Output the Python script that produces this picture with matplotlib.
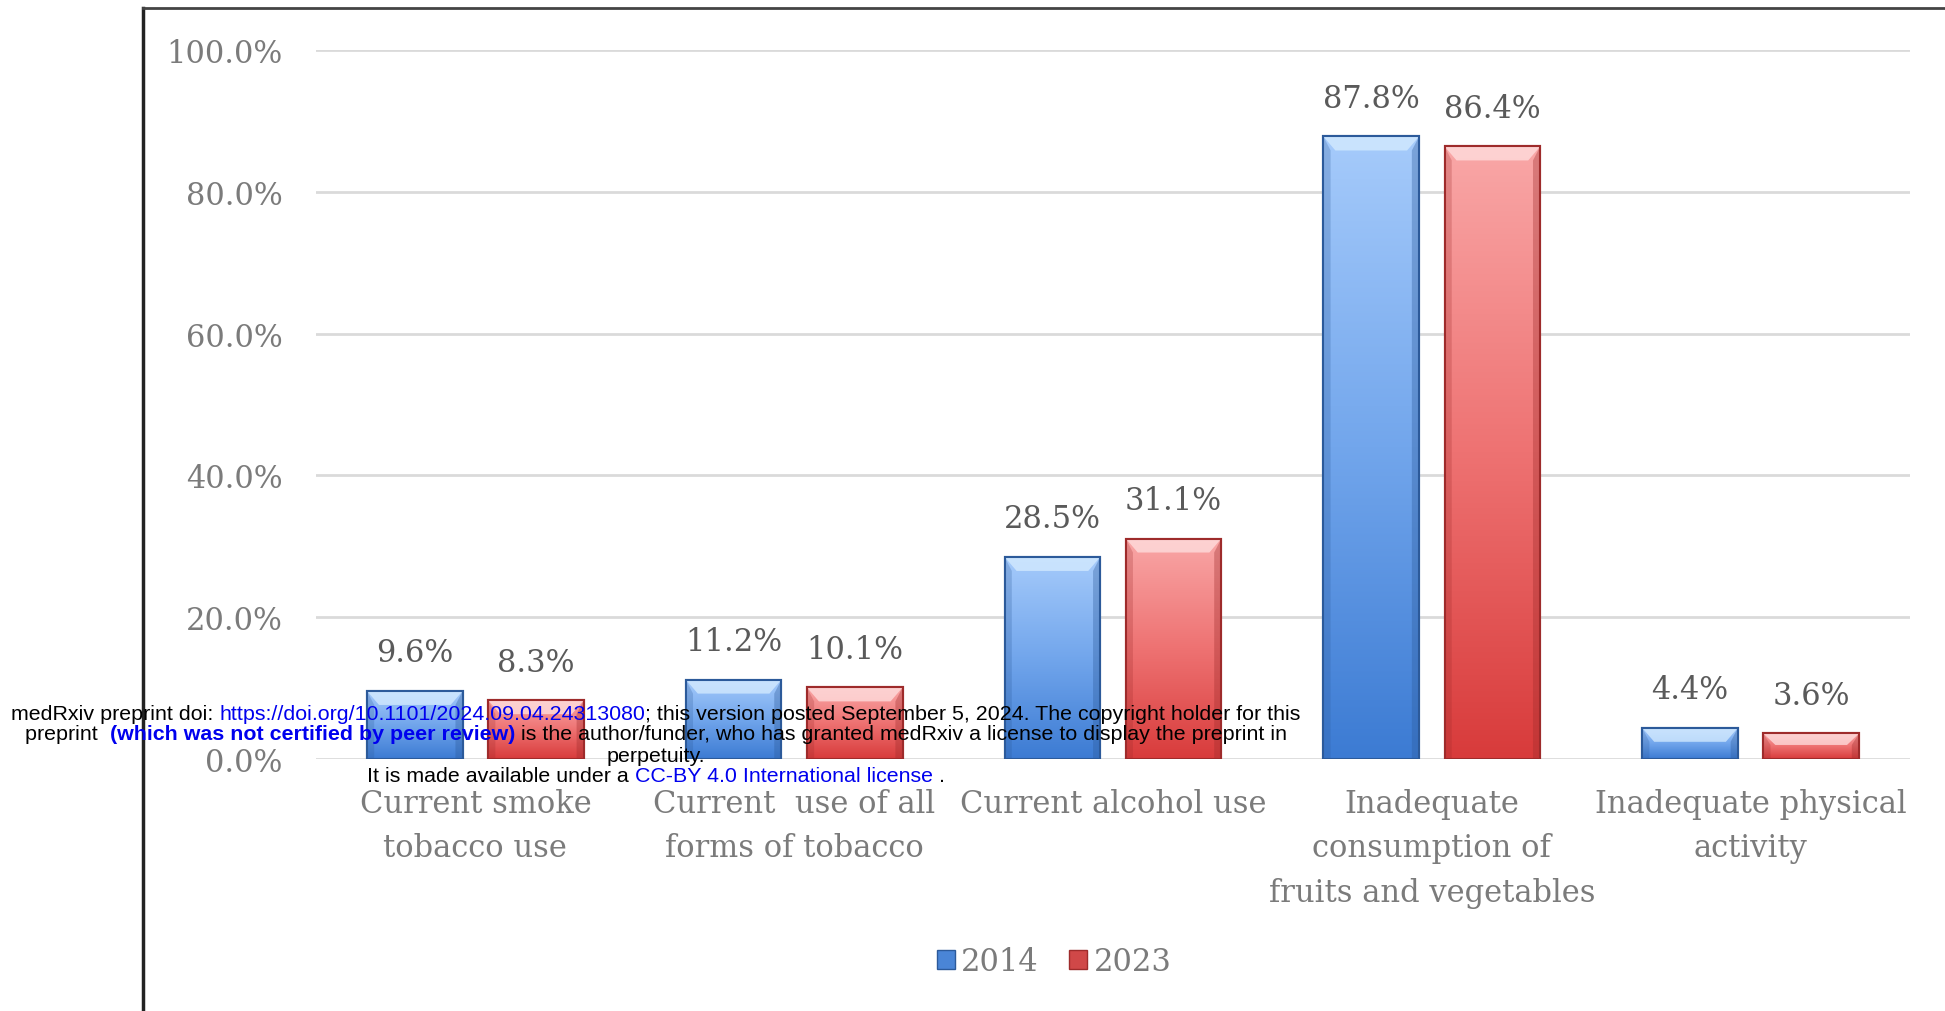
import numpy as np
import matplotlib
matplotlib.use("Agg")
import matplotlib.pyplot as plt
from matplotlib.patches import Patch, Polygon
from matplotlib.lines import Line2D
from matplotlib.colors import LinearSegmentedColormap

# data
categories = ["Current smoke\ntobacco use",
              "Current  use of all\nforms of tobacco",
              "Current alcohol use",
              "Inadequate\nconsumption of\nfruits and vegetables",
              "Inadequate physical\nactivity"]
years = ["2014", "2023"]
values_2014 = [9.6, 11.2, 28.5, 87.8, 4.4]
values_2023 = [8.3, 10.1, 31.1, 86.4, 3.6]
y_ticks = [0, 20, 40, 60, 80, 100]

W, H = 1945, 1012
AX_L, AX_R, AX_T, AX_B = 316, 1910, 51, 760
fig = plt.figure(figsize=(W / 100, H / 100), dpi=100)
ax = fig.add_axes([AX_L / W, 1 - AX_B / H, (AX_R - AX_L) / W, (AX_B - AX_T) / H])

serif = "DejaVu Serif"
gray = "#7b7b7b"
fs = 22

x = np.arange(len(categories))
bw = 0.30
off = 0.19

blue_cmap = LinearSegmentedColormap.from_list("b", ["#3c7bd3", "#72a6ec", "#a6cbfb"])
red_cmap = LinearSegmentedColormap.from_list("r", ["#d83b3b", "#ee7272", "#f9a7a7"])
styles = [("#3c7bd3", "#2c5a9a", blue_cmap, "#d6ecff"),
          ("#d84444", "#9e2b2b", red_cmap, "#ffe0e0")]

# pixel sizes of the bevel, turned into data units
px_x = (AX_R - AX_L) / 5.0
px_y = (AX_B - AX_T) / 100.0
dx = 12 / px_x
dy = 14 / px_y

grad = np.linspace(0, 1, 256).reshape(-1, 1)

for i, vals in enumerate([values_2014, values_2023]):
    face, edge, cmap, hi = styles[i]
    pos = x - off if i == 0 else x + off
    bars = ax.bar(pos, vals, width=bw, color=face, edgecolor=edge,
                  linewidth=1.5, zorder=2)
    for b, v in zip(bars, vals):
        x0 = b.get_x()
        x1 = x0 + b.get_width()
        im = ax.imshow(grad, extent=(x0, x1, 0, v), origin="lower",
                       cmap=cmap, aspect="auto", zorder=2.5)
        im.set_clip_path(b)
        d = min(dy, v * 0.45)
        ax.add_patch(Polygon([(x0, v), (x1, v), (x1 - dx, v - d), (x0 + dx, v - d)],
                             closed=True, facecolor=hi, edgecolor="none",
                             alpha=0.75, zorder=3))
        ax.add_patch(Polygon([(x0, 0), (x0, v), (x0 + dx * 0.6, v - d), (x0 + dx * 0.6, 0)],
                             closed=True, facecolor=edge, alpha=0.25,
                             edgecolor="none", zorder=3))
        ax.add_patch(Polygon([(x1, 0), (x1, v), (x1 - dx * 0.6, v - d), (x1 - dx * 0.6, 0)],
                             closed=True, facecolor=edge, alpha=0.35,
                             edgecolor="none", zorder=3))
        ax.bar(b.get_x() + b.get_width() / 2, v, width=bw, color="none",
               edgecolor=edge, linewidth=1.5, zorder=4)
        ax.annotate(f"{v:.1f}%", (b.get_x() + b.get_width() / 2, v),
                    xytext=(0, 38), textcoords="offset pixels",
                    ha="center", va="center", fontsize=fs,
                    family=serif, color="#5a5a5a")

ax.set_xlim(-0.5, 4.5)
ax.set_ylim(0, 100)
ax.set_yticks(y_ticks)
ax.set_yticklabels([f"{t:.1f}%" for t in y_ticks], family=serif,
                   fontsize=fs, color=gray)
ax.set_xticks(x)
ax.set_xticklabels(categories, family=serif, fontsize=fs, color=gray,
                   linespacing=1.55)
ax.tick_params(axis="y", length=0, pad=24)
ax.tick_params(axis="x", length=0, pad=21)
ax.grid(axis="y", color="#dadada", linewidth=2, zorder=0)
ax.set_axisbelow(True)
for s in ax.spines.values():
    s.set_visible(False)

# legend
handles = [Patch(facecolor="#4a85d6", edgecolor="#2c5a9a"),
           Patch(facecolor="#d04848", edgecolor="#9e2b2b")]
fig.legend(handles, years, loc="center", bbox_to_anchor=(1054 / W, 1 - 963 / H),
           ncol=2, frameon=False, handlelength=0.6, handleheight=0.6,
           handletextpad=0.2, columnspacing=1.0,
           prop={"family": serif, "size": fs}, labelcolor=gray)

# frame lines of the page
fig.add_artist(Line2D([143 / W, 143 / W], [0, 1 - 9 / H], transform=fig.transFigure,
                      color="#222222", linewidth=2.5))
fig.add_artist(Line2D([143 / W, 1], [1 - 9 / H, 1 - 9 / H], transform=fig.transFigure,
                      color="#444444", linewidth=2))

# medRxiv overlay text
blue = "#0000ee"
lines = [
    (714, [("medRxiv preprint doi: ", "black", "normal"),
           ("https://doi.org/10.1101/2024.09.04.24313080", blue, "normal"),
           ("; this version posted September 5, 2024. The copyright holder for this", "black", "normal")]),
    (735, [("preprint  ", "black", "normal"),
           ("(which was not certified by peer review)", blue, "bold"),
           (" is the author/funder, who has granted medRxiv a license to display the preprint in", "black", "normal")]),
    (756, [("perpetuity.", "black", "normal")]),
    (777, [("It is made available under a ", "black", "normal"),
           ("CC-BY 4.0 International license", blue, "normal"),
           (" .", "black", "normal")]),
]
fig.canvas.draw()
renderer = fig.canvas.get_renderer()
ofs = 15.4


def text_width(s, weight):
    t = fig.text(0, 0, "I" + s + "I", fontsize=ofs, family="Liberation Sans", weight=weight)
    t2 = fig.text(0, 0, "II", fontsize=ofs, family="Liberation Sans", weight=weight)
    w = t.get_window_extent(renderer).width - t2.get_window_extent(renderer).width
    t.remove()
    t2.remove()
    return w


cx = 656
for ypix, pieces in lines:
    widths = [text_width(s, w) for s, c, w in pieces]
    xpix = cx - sum(widths) / 2
    for (s, c, w), wd in zip(pieces, widths):
        fig.text(xpix / W, 1 - ypix / H, s, fontsize=ofs, family="Liberation Sans",
                 weight=w, color=c, ha="left", va="center", zorder=10)
        xpix += wd

fig.savefig("out.png", dpi=100)
